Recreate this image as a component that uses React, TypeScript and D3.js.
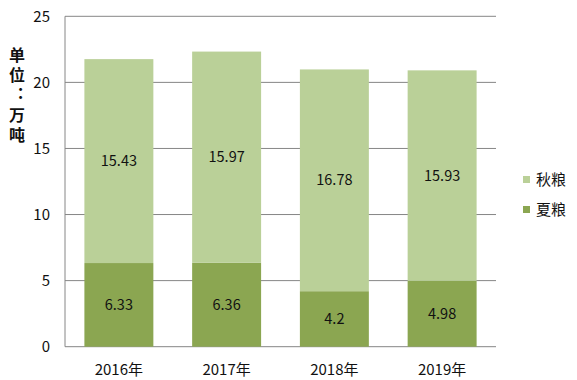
import React from "react";
import * as d3 from "d3";

const categories = ["2016年", "2017年", "2018年", "2019年"];
const summer = [6.33, 6.36, 4.2, 4.98];
const autumn = [15.43, 15.97, 16.78, 15.93];
const yTicks = [0, 5, 10, 15, 20, 25];
const seriesNames = ["秋粮", "夏粮"];
const yTitle = "单位：万吨";

const W = 577, H = 380;
const left = 65, right = 496, top = 16.3, bottom = 346.7;
const cLight = "#bad098";
const cDark = "#8ba651";
const font = "'Noto Sans CJK SC', 'Liberation Sans', sans-serif";

export default function App() {
  const x = d3.scaleBand().domain(categories).range([left, right]).paddingInner(0.36).paddingOuter(0.18);
  const y = d3.scaleLinear().domain([0, 25]).range([bottom, top]);
  const rows = categories.map((c, i) => ({ c, s: summer[i], a: autumn[i] }));
  const stack = d3.stack<any>().keys(["s", "a"])(rows as any);
  const colors = [cDark, cLight];
  return (
    <svg width={W} height={H} style={{ position: "absolute", left: 0, top: 0 }}>
      <rect width={W} height={H} fill="#fff" />
      {yTicks.map(t => (
        <g key={t}>
          <line x1={left} x2={right} y1={y(t)} y2={y(t)} stroke="#868686" strokeWidth={1} />
          <text x={50} y={y(t)} dy="0.35em" textAnchor="end" fontSize={15} fontFamily={font} fill="#111">{t}</text>
        </g>
      ))}
      <line x1={left} x2={left} y1={top} y2={bottom} stroke="#868686" strokeWidth={1} />
      {stack.map((layer, li) => (
        <g key={li}>
          {layer.map((d, i) => (
            <g key={i}>
              <rect x={x(categories[i])!} width={x.bandwidth()} y={y(d[1])} height={y(d[0]) - y(d[1])} fill={colors[li]} />
              <text x={x(categories[i])! + x.bandwidth() / 2} y={(y(d[0]) + y(d[1])) / 2} dy="0.35em" textAnchor="middle" fontSize={14.5} fontFamily={font} fill="#111">
                {li === 0 ? summer[i] : autumn[i]}
              </text>
            </g>
          ))}
        </g>
      ))}
      {categories.map(c => (
        <text key={c} x={x(c)! + x.bandwidth() / 2} y={370} dy="0.35em" textAnchor="middle" fontSize={15} fontFamily={font} fill="#111">{c}</text>
      ))}
      <text x={17} y={47} fontSize={16} fontWeight="bold" fontFamily={font} fill="#111"
        letterSpacing={4}
        style={{ writingMode: "vertical-rl", textOrientation: "upright" } as any}>
        {yTitle}
      </text>
      {seriesNames.map((n, i) => (
        <g key={n}>
          <rect x={523} y={176 + i * 30} width={7} height={7} fill={i === 0 ? cLight : cDark} />
          <text x={536} y={179.5 + i * 30} dy="0.35em" fontSize={15} fontFamily={font} fill="#111">{n}</text>
        </g>
      ))}
    </svg>
  );
}
